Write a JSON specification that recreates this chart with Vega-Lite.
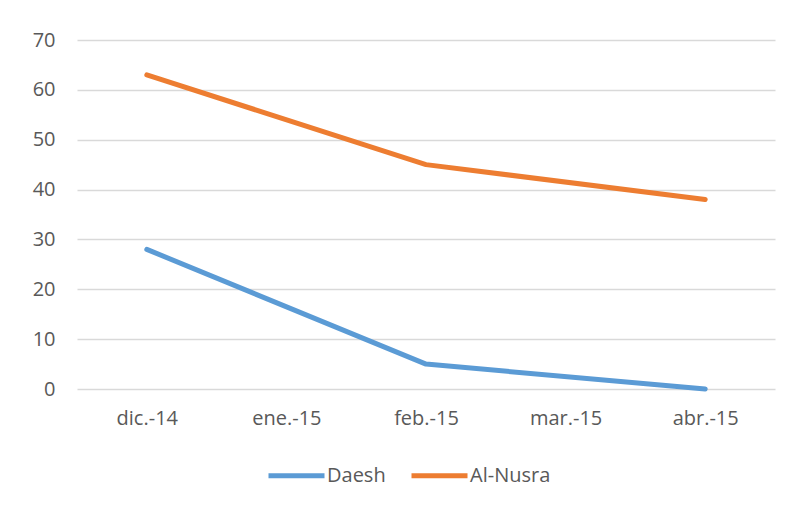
{
  "$schema": "https://vega.github.io/schema/vega-lite/v6.json",
  "width": 698,
  "height": 349,
  "autosize": {"type": "none"},
  "padding": {"left": 77, "top": 40, "right": 15, "bottom": 117},
  "background": "white",
  "data": {
    "values": [
      {"mes": "dic.-14", "serie": "Daesh", "valor": 28},
      {"mes": "feb.-15", "serie": "Daesh", "valor": 5},
      {"mes": "abr.-15", "serie": "Daesh", "valor": 0},
      {"mes": "dic.-14", "serie": "Al-Nusra", "valor": 63},
      {"mes": "feb.-15", "serie": "Al-Nusra", "valor": 45},
      {"mes": "abr.-15", "serie": "Al-Nusra", "valor": 38}
    ]
  },
  "mark": {"type": "line", "strokeWidth": 5, "strokeCap": "round", "strokeJoin": "round"},
  "encoding": {
    "x": {
      "field": "mes",
      "type": "ordinal",
      "scale": {"type": "point", "padding": 0.5, "domain": ["dic.-14", "ene.-15", "feb.-15", "mar.-15", "abr.-15"]},
      "axis": {"title": null, "labelAngle": 0, "ticks": false, "domain": false, "grid": false, "labelPadding": 19, "labelFontSize": 20, "labelFont": "Open Sans", "labelColor": "#595959"}
    },
    "y": {
      "field": "valor",
      "type": "quantitative",
      "scale": {"domain": [0, 70], "nice": false},
      "axis": {"title": null, "values": [0, 10, 20, 30, 40, 50, 60, 70], "ticks": false, "domain": false, "grid": true, "gridColor": "#D9D9D9", "gridWidth": 1.3, "labelPadding": 22, "labelFontSize": 20, "labelFont": "Open Sans", "labelColor": "#595959"}
    },
    "color": {
      "field": "serie",
      "type": "nominal",
      "scale": {"domain": ["Daesh", "Al-Nusra"], "range": ["#5B9BD5", "#ED7D31"]},
      "legend": {
        "title": null,
        "orient": "none",
        "legendX": 189,
        "legendY": 405,
        "direction": "horizontal",
        "symbolType": "stroke",
        "symbolSize": 3136,
        "symbolStrokeWidth": 5,
        "labelFontSize": 20,
        "labelFont": "Open Sans",
        "labelColor": "#595959",
        "labelOffset": 0,
        "columnPadding": 15
      }
    }
  },
  "config": {"view": {"stroke": null}}
}
